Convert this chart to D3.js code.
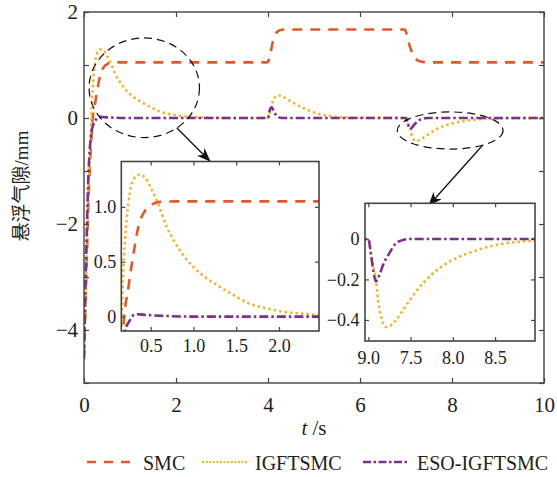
<!DOCTYPE html>
<html>
<head>
<meta charset="utf-8">
<script src="https://cdn.jsdelivr.net/npm/d3@7"></script>
<style>
body { margin: 0; background: #fff; }
svg { display: block; }
</style>
</head>
<body>
<div id="chart"></div>
<script>
// values: [t (s), gap (mm)]
var smcData = [[0, -4.5], [0.05, -3.0], [0.1, -1.5], [0.15, -0.55], [0.18, -0.1], [0.24, 0.27], [0.3, 0.58],
    [0.356, 0.82], [0.43, 0.96], [0.51, 1.02], [0.61, 1.045], [0.8, 1.05], [3.98, 1.05], [4.02, 1.1],
    [4.05, 1.2], [4.09, 1.38], [4.15, 1.56], [4.22, 1.64], [4.3, 1.665], [4.5, 1.67], [6.97, 1.67],
    [7.01, 1.6], [7.05, 1.45], [7.12, 1.26], [7.2, 1.13], [7.3, 1.07], [7.45, 1.05], [10, 1.05]];
var igftData = [[0, -4.4], [0.04, -3.3], [0.08, -1.8], [0.12, -0.8], [0.156, -0.1], [0.175, 0.335], [0.2, 0.7],
    [0.24, 1.04], [0.3, 1.25], [0.37, 1.295], [0.436, 1.265], [0.49, 1.19], [0.59, 1.02], [0.686, 0.82],
    [0.78, 0.68], [0.88, 0.56], [1.07, 0.4], [1.27, 0.29], [1.46, 0.2], [1.65, 0.12], [1.85, 0.077],
    [2.04, 0.046], [2.24, 0.03], [2.43, 0.016], [2.8, 0.005], [3.5, 0], [4.0, 0], [4.05, 0.15],
    [4.12, 0.35], [4.22, 0.43], [4.35, 0.39], [4.5, 0.31], [4.76, 0.19], [5.13, 0.07], [5.5, 0.02],
    [6.0, 0.005], [7.0, 0], [7.04, -0.1], [7.09, -0.2], [7.115, -0.3], [7.155, -0.39], [7.21, -0.435],
    [7.27, -0.425], [7.33, -0.4], [7.45, -0.326], [7.645, -0.22], [7.84, -0.145], [8.04, -0.095],
    [8.23, -0.063], [8.43, -0.038], [8.63, -0.021], [8.82, -0.013], [8.96, -0.008], [9.5, -0.003], [10, 0]];
var esoData = [[0, -4.55], [0.05, -2.5], [0.1, -1.0], [0.15, -0.35], [0.2, -0.13], [0.26, -0.03], [0.3, 0.015],
    [0.34, 0.022], [0.45, 0.015], [0.7, 0.005], [1.0, 0], [4.0, 0], [4.04, 0.15], [4.08, 0.2], [4.13, 0.12],
    [4.2, 0.03], [4.3, 0], [7.0, 0], [7.03, -0.07], [7.06, -0.16], [7.09, -0.21], [7.13, -0.18],
    [7.175, -0.128], [7.25, -0.07], [7.33, -0.02], [7.41, -0.005], [7.5, 0], [10, 0]];

var seriesNames = ["SMC", "IGFTSMC", "ESO-IGFTSMC"];
var seriesColors = ["#e0592a", "#f0b42c", "#7e2f8e"];

var mainXTicks = [0, 2, 4, 6, 8, 10];
var mainYTicks = [-5, -4, -3, -2, -1, 0, 1, 2];
var mainYLabels = {"-4": "\u22124", "-2": "\u22122", "0": "0", "2": "2"};
var in1XTicks = [0.5, 1.0, 1.5, 2.0];
var in1XLabels = ["0.5", "1.0", "1.5", "2.0"];
var in1YTicks = [0, 0.5, 1.0];
var in1YLabels = ["0", "0.5", "1.0"];
var in2XTicks = [7.0, 7.5, 8.0, 8.5];
var in2XLabels = ["9.0", "7.5", "8.0", "8.5"];
var in2YTicks = [0, -0.2, -0.4];
var in2YLabels = ["0", "\u22120.2", "\u22120.4"];

// zoom markers in main-axis units
var ellipses = [{cx: 1.31, cy: 0.57, rx: 1.2, ry: 0.94}, {cx: 7.96, cy: -0.236, rx: 1.15, ry: 0.35}];
var arrows = [{x1: 2.015, y1: -0.183, x2: 2.75, y2: -0.825}, {x1: 8.67, y1: -0.51, x2: 7.485, y2: -1.66}];

var SERIF = "'Liberation Serif', 'Times New Roman', Tinos";
var W = 557, H = 477;
var svg = d3.select("#chart").append("svg").attr("width", W).attr("height", H)
    .style("font-family", SERIF);

var defs = svg.append("defs");
defs.append("marker").attr("id", "arrowhead")
    .attr("viewBox", "-14 -6 14 12").attr("refX", 0).attr("refY", 0)
    .attr("markerWidth", 14).attr("markerHeight", 12).attr("markerUnits", "userSpaceOnUse")
    .attr("orient", "auto")
    .append("path").attr("d", "M0,0 L-14,-5.5 L-10,0 L-14,5.5 Z").attr("fill", "#111");

var dashes = ["10,8", "2.5,3", "9,3,2.5,3"];
var datasets = [smcData, igftData, esoData];

function drawPanel(id, box, xd, yd, o) {
    var x = d3.scaleLinear().domain(xd).range([box.l, box.r]);
    var y = d3.scaleLinear().domain(yd).range([box.b, box.t]);
    var g = svg.append("g");
    g.append("rect").attr("x", box.l).attr("y", box.t)
        .attr("width", box.r - box.l).attr("height", box.b - box.t).attr("fill", "#fff");
    defs.append("clipPath").attr("id", id).append("rect")
        .attr("x", box.l).attr("y", box.t).attr("width", box.r - box.l).attr("height", box.b - box.t);

    var line = d3.line().x(function (d) { return x(d[0]); }).y(function (d) { return y(d[1]); })
        .curve(d3.curveMonotoneX);
    var lines = g.append("g").attr("clip-path", "url(#" + id + ")");
    datasets.forEach(function (data, i) {
        lines.append("path").datum(data).attr("d", line)
            .attr("fill", "none").attr("stroke", seriesColors[i])
            .attr("stroke-width", 2.6).attr("stroke-dasharray", dashes[i]);
    });

    var ts = o.tick;
    var ax = [
        [d3.axisBottom(x).tickValues(o.xt).tickSizeInner(-ts).tickSizeOuter(0).tickPadding(o.xpad)
            .tickFormat(function (d, i) { return o.xl[i]; }), "translate(0," + box.b + ")"],
        [d3.axisTop(x).tickValues(o.xt).tickSizeInner(-ts).tickSizeOuter(0).tickFormat(""), "translate(0," + box.t + ")"],
        [d3.axisLeft(y).tickValues(o.yt).tickSizeInner(-ts).tickSizeOuter(0).tickPadding(o.ypad)
            .tickFormat(o.yf), "translate(" + box.l + ",0)"],
        [d3.axisRight(y).tickValues(o.yt).tickSizeInner(-ts).tickSizeOuter(0).tickFormat(""), "translate(" + box.r + ",0)"]
    ];
    ax.forEach(function (a) {
        var ag = g.append("g").attr("transform", a[1]).call(a[0]);
        ag.attr("font-family", null).attr("font-size", null);
        ag.select(".domain").remove();
        ag.selectAll("line").attr("stroke", "#444").attr("stroke-width", 1.2);
        ag.selectAll("text").attr("fill", "#222").style("font-size", o.fs + "px")
            .style("font-family", SERIF);
    });
    g.append("rect").attr("x", box.l).attr("y", box.t)
        .attr("width", box.r - box.l).attr("height", box.b - box.t)
        .attr("fill", "none").attr("stroke", "#444").attr("stroke-width", o.frame);
    return {x: x, y: y, g: g};
}

var main = drawPanel("clipMain", {l: 84, r: 544, t: 12, b: 383}, [0, 10], [-5, 2], {
    xt: mainXTicks, xl: mainXTicks.map(String), yt: mainYTicks,
    yf: function (d) { return mainYLabels[d] || ""; },
    tick: 5, xpad: 14, ypad: 6, fs: 21, frame: 1.4
});

// zoom ellipses and arrows
ellipses.forEach(function (e) {
    svg.append("ellipse")
        .attr("cx", main.x(e.cx)).attr("cy", main.y(e.cy))
        .attr("rx", main.x(e.rx) - main.x(0)).attr("ry", main.y(0) - main.y(e.ry))
        .attr("fill", "none").attr("stroke", "#111").attr("stroke-width", 1.2)
        .attr("stroke-dasharray", "8,5");
});
arrows.forEach(function (a) {
    svg.append("line")
        .attr("x1", main.x(a.x1)).attr("y1", main.y(a.y1))
        .attr("x2", main.x(a.x2)).attr("y2", main.y(a.y2))
        .attr("stroke", "#111").attr("stroke-width", 1.3)
        .attr("marker-end", "url(#arrowhead)");
});

drawPanel("clipIn1", {l: 121.3, r: 319, t: 161.5, b: 331}, [0.156, 2.468], [-0.131, 1.413], {
    xt: in1XTicks, xl: in1XLabels, yt: in1YTicks,
    yf: function (d, i) { return in1YLabels[i]; },
    tick: 4, xpad: 8, ypad: 5, fs: 18, frame: 1.6
});
drawPanel("clipIn2", {l: 365, r: 535, t: 203.3, b: 341}, [6.961, 8.972], [-0.504, 0.176], {
    xt: in2XTicks, xl: in2XLabels, yt: in2YTicks,
    yf: function (d, i) { return in2YLabels[i]; },
    tick: 4, xpad: 10, ypad: 5.5, fs: 18, frame: 1.6
});

// axis titles
var yt = svg.append("text").attr("transform", "translate(28,186) rotate(-90)")
    .attr("text-anchor", "middle").style("font-size", "19px").attr("fill", "#222");
yt.append("tspan").style("font-family", "'Noto Sans CJK SC'").text("悬浮气隙");
yt.append("tspan").text("/mm");
var xt = svg.append("text").attr("x", 314).attr("y", 435).attr("text-anchor", "middle")
    .style("font-size", "21px").attr("fill", "#222");
xt.append("tspan").style("font-style", "italic").text("t");
xt.append("tspan").text(" /s");

// legend
var legX = [{x1: 87, x2: 132, tx: 143}, {x1: 202, x2: 248, tx: 255}, {x1: 363, x2: 408, tx: 417}];
var legDash = ["9,8", "2,1.6", "8,2.5,2.5,2.5"];
seriesNames.forEach(function (name, i) {
    svg.append("line").attr("x1", legX[i].x1).attr("x2", legX[i].x2).attr("y1", 462).attr("y2", 462)
        .attr("stroke", seriesColors[i]).attr("stroke-width", i == 1 ? 2 : 2.6)
        .attr("stroke-dasharray", legDash[i]);
    svg.append("text").attr("x", legX[i].tx).attr("y", 469.5)
        .style("font-size", "20px").attr("fill", "#222").text(name);
});
</script>
</body>
</html>
